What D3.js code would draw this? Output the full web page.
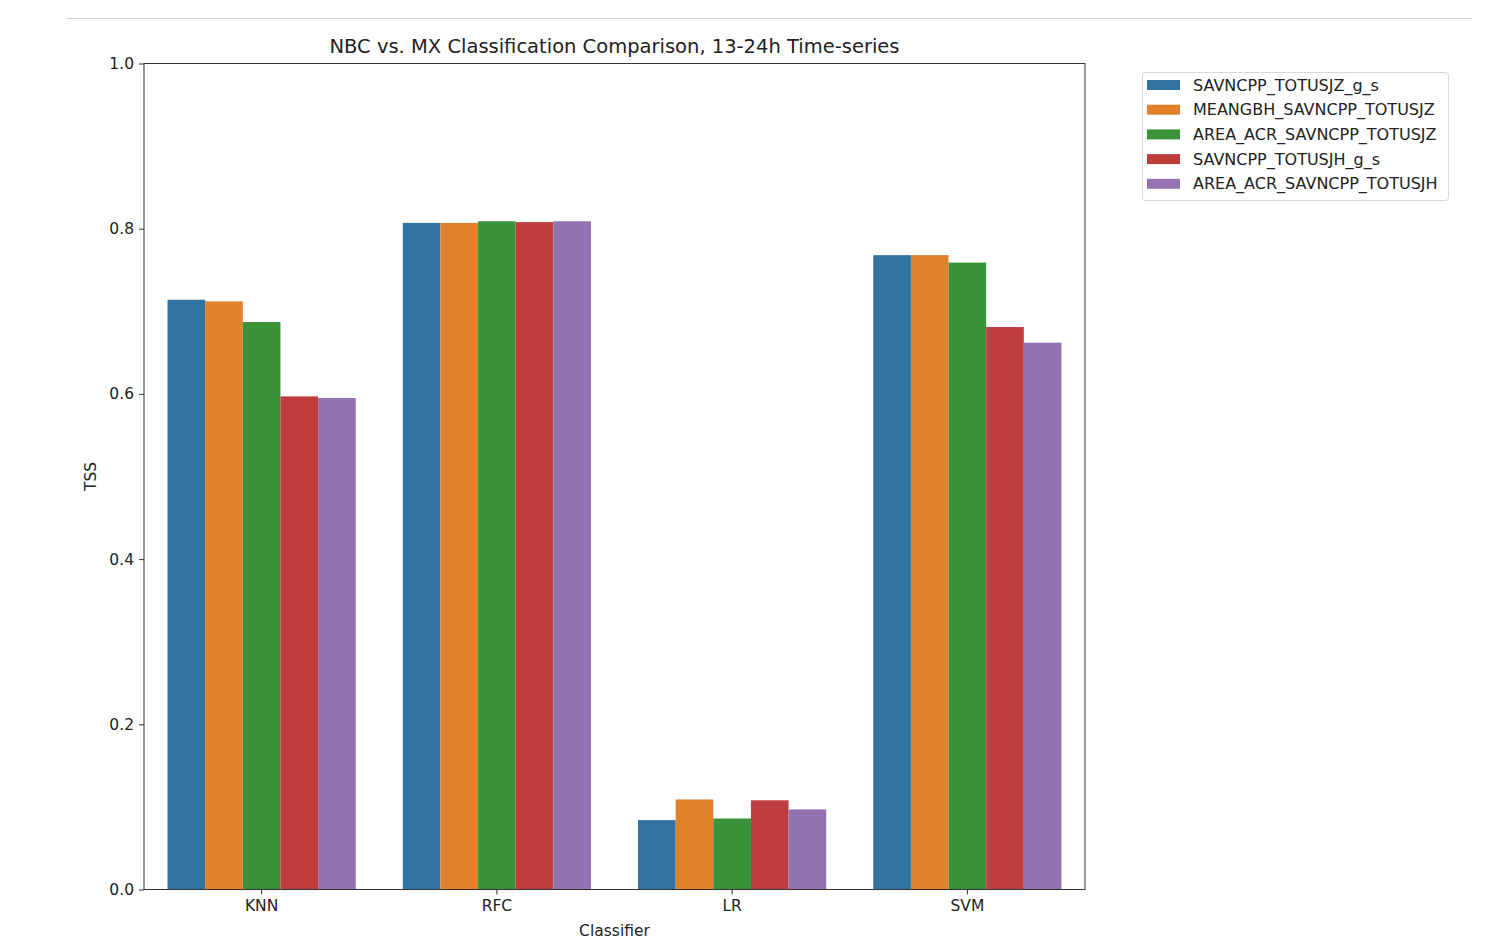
<!DOCTYPE html>
<html><head><meta charset="utf-8">
<script src="https://cdn.jsdelivr.net/npm/d3@7"></script>
<style>body{margin:0;background:#fff;} text{font-family:"DejaVu Sans",sans-serif;fill:#222;}</style>
</head><body>
<svg id="c" width="1489" height="946"></svg>
<script>
const categories = ["KNN","RFC","LR","SVM"];
const seriesNames = ["SAVNCPP_TOTUSJZ_g_s","MEANGBH_SAVNCPP_TOTUSJZ","AREA_ACR_SAVNCPP_TOTUSJZ","SAVNCPP_TOTUSJH_g_s","AREA_ACR_SAVNCPP_TOTUSJH"];
const s1 = [0.714, 0.807, 0.084, 0.768];
const s2 = [0.712, 0.807, 0.109, 0.768];
const s3 = [0.687, 0.809, 0.086, 0.759];
const s4 = [0.597, 0.808, 0.108, 0.681];
const s5 = [0.595, 0.809, 0.097, 0.662];
const seriesValues = [s1,s2,s3,s4,s5];
const colors = ["#3274a1","#e1812c","#3a923a","#c03d3e","#9372b2"];
const yTicks = [0,0.2,0.4,0.6,0.8,1.0];

const svg = d3.select("#c");
svg.append("line").attr("x1",67).attr("x2",1472).attr("y1",18.5).attr("y2",18.5).attr("stroke","#d0d0d0").attr("stroke-width",1.2);

const L=144, R=1085, T=63.5, B=889.5;
const x = d3.scaleBand().domain(categories).range([L,R]).paddingInner(0.2).paddingOuter(0.1);
const xs = d3.scaleBand().domain(seriesNames).range([0,x.bandwidth()]);
const y = d3.scaleLinear().domain([0,1]).range([B,T]);

const g = svg.append("g");
seriesNames.forEach((s,si)=>{
  g.selectAll(null).data(categories).enter().append("rect")
   .attr("x",d=>x(d)+xs(s)).attr("width",xs.bandwidth())
   .attr("y",(d,i)=>y(seriesValues[si][i])).attr("height",(d,i)=>B-y(seriesValues[si][i]))
   .attr("fill",colors[si]);
});

svg.append("rect").attr("x",L).attr("y",T).attr("width",R-L).attr("height",B-T).attr("fill","none").attr("stroke","#333").attr("stroke-width",1);

const ya = svg.append("g").attr("transform",`translate(${L},0)`).call(d3.axisLeft(y).tickValues(yTicks).tickFormat(d3.format(".1f")).tickSize(5).tickPadding(5));
ya.select(".domain").remove();
ya.selectAll("text").style("font-size","15.5px").attr("fill","#222");
ya.selectAll("line").attr("stroke","#333");

const xa = svg.append("g").attr("transform",`translate(0,${B})`).call(d3.axisBottom(x).tickSize(5).tickPadding(5));
xa.select(".domain").remove();
xa.selectAll("text").style("font-size","15.5px").attr("fill","#222");
xa.selectAll("line").attr("stroke","#333");

svg.append("text").attr("x",(L+R)/2).attr("y",53).attr("text-anchor","middle").style("font-size","19.5px").text("NBC vs. MX Classification Comparison, 13-24h Time-series");
svg.append("text").attr("x",(L+R)/2).attr("y",936).attr("text-anchor","middle").style("font-size","15.5px").text("Classifier");
svg.append("text").attr("transform",`translate(96,${(T+B)/2}) rotate(-90)`).attr("text-anchor","middle").style("font-size","15.5px").text("TSS");

const lg = svg.append("g").attr("transform","translate(1142,72)");
lg.append("rect").attr("x",0.5).attr("y",0.5).attr("width",306).attr("height",128).attr("rx",3).attr("fill","#fff").attr("stroke","#d8d8d8");
seriesNames.forEach((s,i)=>{
  const yy = 13 + i*24.7;
  lg.append("rect").attr("x",5).attr("y",yy-5).attr("width",33).attr("height",10).attr("fill",colors[i]);
  lg.append("text").attr("x",51).attr("y",yy+5.5).style("font-size","16px").text(s);
});
</script>
</body></html>
